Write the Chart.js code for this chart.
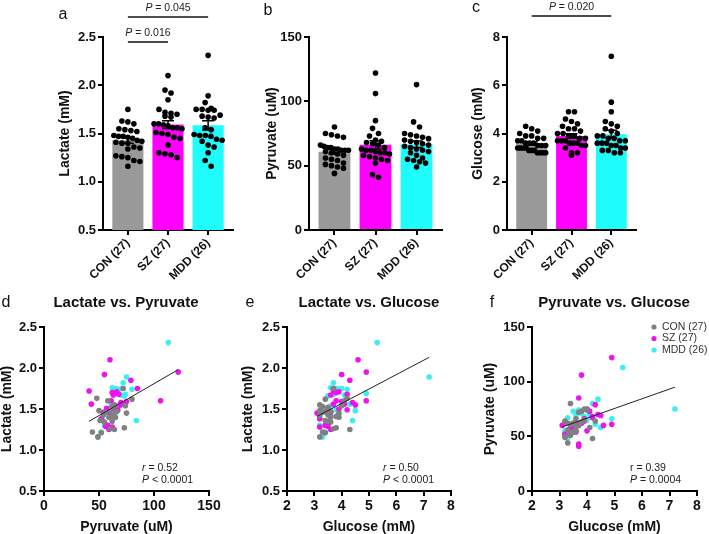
<!DOCTYPE html>
<html>
<head>
<meta charset="utf-8">
<script src="https://cdn.jsdelivr.net/npm/chart.js@4.4.1/dist/chart.umd.min.js"></script>
<style>
  html, body { margin: 0; padding: 0; background: #fff; overflow: hidden; }
  #wrap { position: relative; width: 709px; height: 534px; }
  canvas { position: absolute; }
</style>
</head>
<body>
<div id="wrap">
  <canvas id="pa" width="236" height="300" style="left:0;top:0"></canvas>
  <canvas id="pb" width="236" height="300" style="left:236px;top:0"></canvas>
  <canvas id="pc" width="241" height="300" style="left:468px;top:0"></canvas>
  <canvas id="pd" width="236" height="249" style="left:0;top:285px"></canvas>
  <canvas id="pe" width="236" height="249" style="left:236px;top:285px"></canvas>
  <canvas id="pf" width="237" height="249" style="left:472px;top:285px"></canvas>
</div>
<script>
/* ---- Data (one entry per subject, same order in each array of a group) ---- */
const groups = ['CON (27)', 'SZ (27)', 'MDD (26)'];

const conLactate  = [1.75, 1.63, 1.62, 1.60, 1.55, 1.54, 1.53, 1.52, 1.48, 1.47, 1.47, 1.46, 1.45, 1.43,
                     1.42, 1.41, 1.40, 1.40, 1.36, 1.35, 1.34, 1.27, 1.26, 1.25, 1.22, 1.21, 1.16];
const conPyruvate = [72, 48, 80, 58, 64, 74, 62, 62, 50, 66, 61, 56, 75, 54,
                     63, 63, 59, 65, 51, 62, 55, 73, 60, 64, 44, 52, 49];
const conGlucose  = [3.7, 4.2, 3.4, 4.1, 3.2, 4.0, 3.3, 3.5, 3.2, 3.6, 3.4, 3.3, 3.9, 3.5,
                     3.2, 3.8, 3.6, 3.9, 3.4, 3.5, 3.6, 3.8, 3.7, 4.3, 3.3, 3.4, 3.2];

const szLactate   = [2.10, 1.95, 1.92, 1.85, 1.75, 1.72, 1.71, 1.70, 1.68, 1.67, 1.60, 1.60, 1.59, 1.58,
                     1.56, 1.56, 1.55, 1.51, 1.50, 1.49, 1.46, 1.45, 1.38, 1.30, 1.29, 1.28, 1.25];
const szPyruvate  = [60, 122, 55, 79, 85, 41, 66, 62, 68, 63, 106, 61, 75, 70,
                     43, 73, 69, 57, 64, 67, 54, 60, 52, 58, 56, 62, 59];
const szGlucose   = [4.6, 4.9, 4.0, 4.3, 3.7, 3.7, 3.9, 3.8, 4.2, 3.6, 3.8, 4.9, 4.0, 4.4,
                     3.7, 4.1, 4.5, 3.5, 3.9, 4.2, 3.6, 3.1, 3.2, 3.4, 3.5, 3.2, 3.6];

const mddLactate  = [2.31, 1.89, 1.82, 1.76, 1.75, 1.75, 1.74, 1.74, 1.69, 1.68, 1.67, 1.66, 1.56,
                     1.54, 1.49, 1.48, 1.48, 1.47, 1.44, 1.43, 1.42, 1.38, 1.36, 1.30, 1.22, 1.16];
const mddPyruvate = [113, 75, 72, 62, 65, 71, 80, 68, 66, 74, 70, 73, 61,
                     69, 63, 58, 67, 56, 64, 54, 60, 53, 84, 55, 52, 49];
const mddGlucose  = [5.3, 7.2, 3.7, 3.6, 4.0, 3.8, 4.2, 3.9, 4.9, 3.7, 4.1, 3.5, 4.3,
                     3.6, 3.8, 4.5, 3.3, 3.4, 3.9, 3.5, 3.6, 3.2, 4.4, 3.2, 3.4, 3.3];

/* fitted regression lines: [x0, x1] and [y0, y1] */
const fitLacPyrX = [41, 122],  fitLacPyrY = [1.35, 1.98];
const fitLacGluX = [3.1, 7.2], fitLacGluY = [1.41, 2.13];
const fitPyrGluX = [3.1, 7.2], fitPyrGluY = [58.6, 95];

const lactate  = [conLactate, szLactate, mddLactate];
const pyruvate = [conPyruvate, szPyruvate, mddPyruvate];
const glucose  = [conGlucose, szGlucose, mddGlucose];

/* ---- Style ---- */
const FONT = "'Liberation Sans', Arial, Helvetica, sans-serif";
Chart.defaults.font.family = FONT;
Chart.defaults.color = '#111';
Chart.defaults.animation = false;

const barColors = ['#999999', '#ff00ff', '#1ffcfc'];
const dotColors = ['#808080', '#ee12ee', '#3ceeee'];

const tickGrid   = { drawOnChartArea: false, offset: false, tickLength: 5, lineWidth: 2, color: '#000' };
const axisBorder = { display: true, color: '#000', width: 2 };

function mean(a) { return a.reduce((s, v) => s + v, 0) / a.length; }
function sem(a) {
  const m = mean(a);
  const sd = Math.sqrt(a.reduce((s, v) => s + (v - m) ** 2, 0) / (a.length - 1));
  return sd / Math.sqrt(a.length);
}

/* text with italic pieces, parts = [[text, italic], ...] */
function richText(ctx, parts, x, y, size, align, color) {
  const fonts = parts.map(p => (p[1] ? 'italic ' : '') + size + 'px ' + FONT);
  const widths = parts.map((p, i) => { ctx.font = fonts[i]; return ctx.measureText(p[0]).width; });
  let cx = align === 'center' ? x - widths.reduce((a, b) => a + b, 0) / 2 : x;
  ctx.fillStyle = color || '#222';
  ctx.textAlign = 'left';
  ctx.textBaseline = 'middle';
  parts.forEach((p, i) => { ctx.font = fonts[i]; ctx.fillText(p[0], cx, y); cx += widths[i]; });
}

function makeNotes(cfg) {
  return {
    id: 'notes',
    afterDatasetDraw(chart, args) {
      if (args.meta.type !== 'bar' || !cfg.errors) return;
      const { ctx } = chart, xs = chart.scales.x, ys = chart.scales.y;
      ctx.save();
      ctx.strokeStyle = '#000';
      ctx.lineWidth = 1.5;
      cfg.errors.forEach((vals, i) => {
        const m = mean(vals), e = sem(vals);
        const x = xs.getPixelForValue(i);
        const y1 = ys.getPixelForValue(m + e), y2 = ys.getPixelForValue(m - e);
        ctx.beginPath();
        ctx.moveTo(x, y1); ctx.lineTo(x, y2);
        ctx.moveTo(x - 6, y1); ctx.lineTo(x + 6, y1);
        ctx.moveTo(x - 6, y2); ctx.lineTo(x + 6, y2);
        ctx.stroke();
      });
      ctx.restore();
    },
    afterDraw(chart) {
      const { ctx } = chart, xs = chart.scales.x;
      ctx.save();
      if (cfg.letter) {
        ctx.font = '16px ' + FONT; ctx.fillStyle = '#111';
        ctx.textAlign = 'center'; ctx.textBaseline = 'middle';
        ctx.fillText(cfg.letter[0], cfg.letter[1], cfg.letter[2]);
      }
      if (cfg.title) {
        ctx.font = 'bold 15px ' + FONT; ctx.fillStyle = '#111';
        ctx.textAlign = 'center'; ctx.textBaseline = 'middle';
        ctx.fillText(cfg.title[0], cfg.title[1], cfg.title[2]);
      }
      (cfg.brackets || []).forEach(b => {
        const x0 = xs.getPixelForValue(b.from), x1 = xs.getPixelForValue(b.to);
        ctx.strokeStyle = '#111'; ctx.lineWidth = 1.5;
        ctx.beginPath(); ctx.moveTo(x0, b.y); ctx.lineTo(x1, b.y); ctx.stroke();
        richText(ctx, [['P', true], [' = ' + b.p, false]], (x0 + x1) / 2, b.y - 9, 10.5, 'center', '#222');
      });
      if (cfg.stats) {
        const s = cfg.stats;
        richText(ctx, [['r', s.rItalic], [' = ' + s.r, false]], s.x, s.y, 10.5, 'left', '#222');
        richText(ctx, [['P', true], [' ' + s.p, false]], s.x, s.y + 12, 10.5, 'left', '#222');
      }
      if (cfg.legend) {
        const L = cfg.legend;
        groups.forEach((g, i) => {
          const y = L.y + i * 11.5;
          ctx.fillStyle = dotColors[i];
          ctx.beginPath(); ctx.arc(L.x, y, 2.6, 0, Math.PI * 2); ctx.fill();
          ctx.font = '10.5px ' + FONT; ctx.fillStyle = '#333';
          ctx.textAlign = 'left'; ctx.textBaseline = 'middle';
          ctx.fillText(g, L.x + 8, y);
        });
      }
      ctx.restore();
    }
  };
}

/* GraphPad-like scatter: values falling in the same dot-high band share a row,
   spread symmetrically about the group centre and squeezed to the bar width */
function swarm(chart, sets, r) {
  const xs = chart.scales.x, ys = chart.scales.y;
  const unit = xs.getPixelForValue(1) - xs.getPixelForValue(0);
  const D = 2 * r + 0.4, maxW = 28;
  const pts = [];
  sets.forEach((vals, gi) => {
    const sorted = vals.slice().sort((a, b) => b - a);
    const rows = [];
    sorted.forEach(v => {
      const py = ys.getPixelForValue(v);
      const row = rows[rows.length - 1];
      if (row && py - row.start < D) row.items.push(v);
      else rows.push({ start: py, items: [v] });
    });
    rows.forEach(row => {
      const n = row.items.length;
      const gap = n > 1 ? Math.min(D, maxW / (n - 1)) : 0;
      row.items.forEach((v, k) => {
        const dx = (k - (n - 1) / 2) * gap;
        pts.push({ x: gi + dx / unit, y: v });
      });
    });
  });
  chart.data.datasets[0].data = pts;
  chart.update('none');
}

function barPanel(id, sets, yOpt, cfg) {
  const canvas = document.getElementById(id);
  const W = canvas.width, H = canvas.height, A = cfg.area;
  const chart = new Chart(canvas, {
    type: 'bar',
    data: {
      datasets: [
        { type: 'scatter', order: 1, data: sets.flatMap((v, i) => v.map(y => ({ x: i, y }))),
          pointRadius: 2.8, pointHoverRadius: 2.8, backgroundColor: '#000', borderWidth: 0 },
        { type: 'bar', order: 2, data: sets.map((v, i) => ({ x: i, y: mean(v) })),
          backgroundColor: barColors, barPercentage: 0.775, categoryPercentage: 1 }
      ]
    },
    options: {
      responsive: false,
      layout: { padding: { left: 0, top: A.t, right: W - A.r, bottom: 0 } },
      plugins: { legend: { display: false }, tooltip: { enabled: false } },
      scales: {
        x: {
          type: 'linear', min: -0.62, max: 2.62, offset: false,
          afterBuildTicks: ax => { ax.ticks = groups.map((g, i) => ({ value: i })); },
          afterFit: s => { s.height = H - A.b; },
          ticks: { callback: v => groups[v], minRotation: 45, maxRotation: 45, autoSkip: false,
                   font: { size: 12, weight: 'bold' }, color: '#111', padding: 1 },
          grid: tickGrid, border: axisBorder
        },
        y: {
          min: yOpt.min, max: yOpt.max,
          afterFit: s => { s.width = A.l; },
          ticks: { stepSize: yOpt.step, callback: yOpt.fmt, font: { size: 13, weight: 'bold' }, color: '#111', padding: 2 },
          title: { display: true, text: yOpt.title, font: { size: 14, weight: 'bold', lineHeight: 1 },
                   color: '#111', padding: { top: cfg.titlePad, bottom: 0 } },
          grid: tickGrid, border: axisBorder
        }
      }
    },
    plugins: [makeNotes(cfg)]
  });
  swarm(chart, sets, 2.8);
}

function scatterPanel(id, xSets, ySets, xOpt, yOpt, fitX, fitY, cfg) {
  const canvas = document.getElementById(id);
  const W = canvas.width, H = canvas.height, A = cfg.area;
  new Chart(canvas, {
    type: 'scatter',
    data: {
      datasets: [
        { type: 'line', order: 0, data: fitX.map((x, i) => ({ x, y: fitY[i] })),
          borderColor: '#222', borderWidth: 1, pointRadius: 0, pointHoverRadius: 0, fill: false }
      ].concat(groups.map((g, i) => ({
        label: g, order: i + 1,
        data: xSets[i].map((x, j) => ({ x, y: ySets[i][j] })),
        backgroundColor: dotColors[i], pointRadius: 2.8, pointHoverRadius: 2.8, borderWidth: 0
      })))
    },
    options: {
      responsive: false,
      layout: { padding: { left: 0, top: A.t, right: W - A.r, bottom: 0 } },
      plugins: { legend: { display: false }, tooltip: { enabled: false } },
      scales: {
        x: {
          type: 'linear', min: xOpt.min, max: xOpt.max,
          afterFit: s => { s.height = H - A.b; },
          ticks: { stepSize: xOpt.step, font: { size: 14, weight: 'bold' }, color: '#111', padding: 2 },
          title: { display: true, text: xOpt.title, font: { size: 14, weight: 'bold', lineHeight: 1 },
                   color: '#111', padding: { top: 0, bottom: 0 } },
          grid: tickGrid, border: axisBorder
        },
        y: {
          min: yOpt.min, max: yOpt.max,
          afterFit: s => { s.width = A.l; },
          ticks: { stepSize: yOpt.step, callback: yOpt.fmt, font: { size: 13, weight: 'bold' }, color: '#111', padding: 2 },
          title: { display: true, text: yOpt.title, font: { size: 14, weight: 'bold', lineHeight: 1 },
                   color: '#111', padding: { top: cfg.titlePad, bottom: 0 } },
          grid: tickGrid, border: axisBorder
        }
      }
    },
    plugins: [makeNotes(cfg)]
  });
}

const lacAxis = { min: 0.5, max: 2.5, step: 0.5, fmt: v => v.toFixed(1), title: 'Lactate (mM)' };
const pyrAxis = { min: 0, max: 150, step: 50, fmt: v => v, title: 'Pyruvate (uM)' };
const gluAxis = { min: 0, max: 8, step: 2, fmt: v => v, title: 'Glucose (mM)' };
const gluX    = { min: 2, max: 8, step: 1, title: 'Glucose (mM)' };

barPanel('pa', lactate, lacAxis, {
  area: { l: 103, t: 37, r: 233, b: 230 }, titlePad: 58, letter: ['a', 63, 15], errors: lactate,
  brackets: [{ from: 0, to: 1, y: 42, p: '0.016' }, { from: 0, to: 2, y: 17, p: '0.045' }]
});
barPanel('pb', pyruvate, pyrAxis, {
  area: { l: 73, t: 37, r: 206, b: 230 }, titlePad: 29, letter: ['b', 32, 11], errors: pyruvate
});
barPanel('pc', glucose, gluAxis, {
  area: { l: 39, t: 37, r: 168, b: 230 }, titlePad: 3, letter: ['c', 8, 8], errors: glucose,
  brackets: [{ from: 0, to: 2, y: 16, p: '0.020' }]
});

scatterPanel('pd', pyruvate, lactate, { min: 0, max: 150, step: 50, title: 'Pyruvate (uM)' }, lacAxis,
  fitLacPyrX, fitLacPyrY, {
    area: { l: 44, t: 42, r: 209, b: 206 }, titlePad: 0, letter: ['d', 6, 18],
    title: ['Lactate vs. Pyruvate', 126, 18], stats: { x: 142, y: 183, r: '0.52', rItalic: true, p: '< 0.0001' }
  });
scatterPanel('pe', glucose, lactate, gluX, lacAxis, fitLacGluX, fitLacGluY, {
  area: { l: 51, t: 42, r: 215, b: 206 }, titlePad: 5, letter: ['e', 14, 18],
  title: ['Lactate vs. Glucose', 133, 18], stats: { x: 147, y: 183, r: '0.50', rItalic: true, p: '< 0.0001' }
});
scatterPanel('pf', glucose, pyruvate, gluX, pyrAxis, fitPyrGluX, fitPyrGluY, {
  area: { l: 60, t: 42, r: 225, b: 206 }, titlePad: 11, letter: ['f', 20, 18],
  title: ['Pyruvate vs. Glucose', 142, 18], stats: { x: 158, y: 183, r: '0.39', rItalic: false, p: '= 0.0004' },
  legend: { x: 182, y: 42 }
});
</script>
</body>
</html>
